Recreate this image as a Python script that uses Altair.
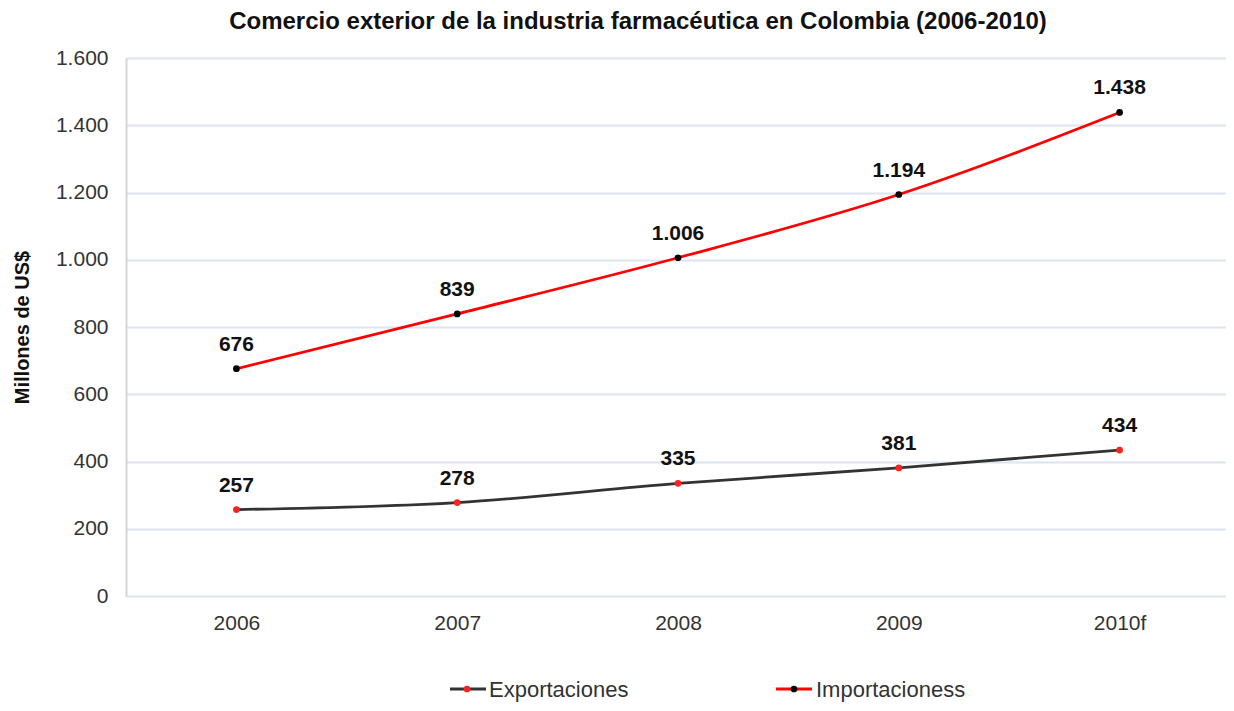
import altair as alt
import pandas as pd

years = ["2006", "2007", "2008", "2009", "2010f"]
exportaciones = [257, 278, 335, 381, 434]
importaciones = [676, 839, 1006, 1194, 1438]
series_names = ["Exportaciones", "Importacioness"]

rows = []
for y, v in zip(years, exportaciones):
    rows.append({"year": y, "value": v, "serie": series_names[0]})
for y, v in zip(years, importaciones):
    rows.append({"year": y, "value": v, "serie": series_names[1]})
df = pd.DataFrame(rows)
one = pd.DataFrame({"k": [0]})

FONT = "Liberation Sans"
fmt = "replace(format(datum.value, ',d'), ',', '.')"

x_enc = alt.X("year:O", sort=years,
              scale=alt.Scale(type="point", padding=0.5),
              axis=alt.Axis(title=None, labelAngle=0, ticks=False, domain=False,
                            labelFont=FONT, labelFontSize=21, labelColor="#333333",
                            labelPadding=16, grid=False))
y_enc = alt.Y("value:Q", scale=alt.Scale(domain=[0, 1600], nice=False),
              axis=alt.Axis(title="Millones de US$", values=list(range(0, 1601, 200)),
                            labelExpr=fmt, ticks=False, domain=True, domainColor="#d6d6d6",
                            domainWidth=2, gridColor="#dde3f0", gridWidth=2,
                            labelFont=FONT, labelFontSize=21, labelColor="#333333",
                            labelPadding=18, titleFont=FONT, titleFontSize=20,
                            titleFontWeight="bold", titleColor="#111111",
                            titleX=-104, titleY=269, titleBaseline="middle",
                            titleAngle=270))

base = alt.Chart(df).encode(x=x_enc, y=y_enc)

def series_layers(name, line_color, dot_color):
    b = base.transform_filter(alt.datum.serie == name)
    line = b.mark_line(color=line_color, strokeWidth=2.8, interpolate="monotone")
    pts = b.mark_circle(color=dot_color, size=45, opacity=1)
    txt = b.transform_calculate(lab=fmt).mark_text(
        font=FONT, fontSize=21, fontWeight="bold", color="#111111",
        dy=-24, baseline="middle").encode(text="lab:N")
    return [line, pts, txt]

layers = series_layers(series_names[0], "#333333", "#ff2020") + \
         series_layers(series_names[1], "#ff0000", "#000000")

# legend
leg = []
LEG_Y = 631
leg_pos = [(324, 360, 341, 363, "#333333", "#ff2020"),
           (650, 686, 668, 690, "#ff0000", "#000000")]
for name, (x1, x2, xd, xt, lc, dc) in zip(series_names, leg_pos):
    leg.append(alt.Chart(one).mark_rule(color=lc, strokeWidth=2.8).encode(
        x=alt.value(x1), x2=alt.value(x2), y=alt.value(LEG_Y)))
    leg.append(alt.Chart(one).mark_circle(color=dc, size=45, opacity=1).encode(
        x=alt.value(xd), y=alt.value(LEG_Y)))
    leg.append(alt.Chart(one).mark_text(text=name, font=FONT, fontSize=22, color="#333333",
                                        align="left", baseline="middle").encode(
        x=alt.value(xt), y=alt.value(LEG_Y + 1)))

chart = alt.layer(*layers, *leg).properties(
    width=1104, height=538,
    title=alt.TitleParams("Comercio exterior de la industria farmacéutica en Colombia (2006-2010)",
                          font=FONT, fontSize=24, fontWeight="bold", color="#111111",
                          anchor="middle", dx=-40, offset=13),
    autosize=alt.AutoSizeParams(type="none"),
    padding={"left": 118, "top": 50, "right": -4, "bottom": 107},
).configure_view(stroke=None).configure(background="white")

chart.save("out.html", embed_options={"renderer": "svg", "actions": False})
